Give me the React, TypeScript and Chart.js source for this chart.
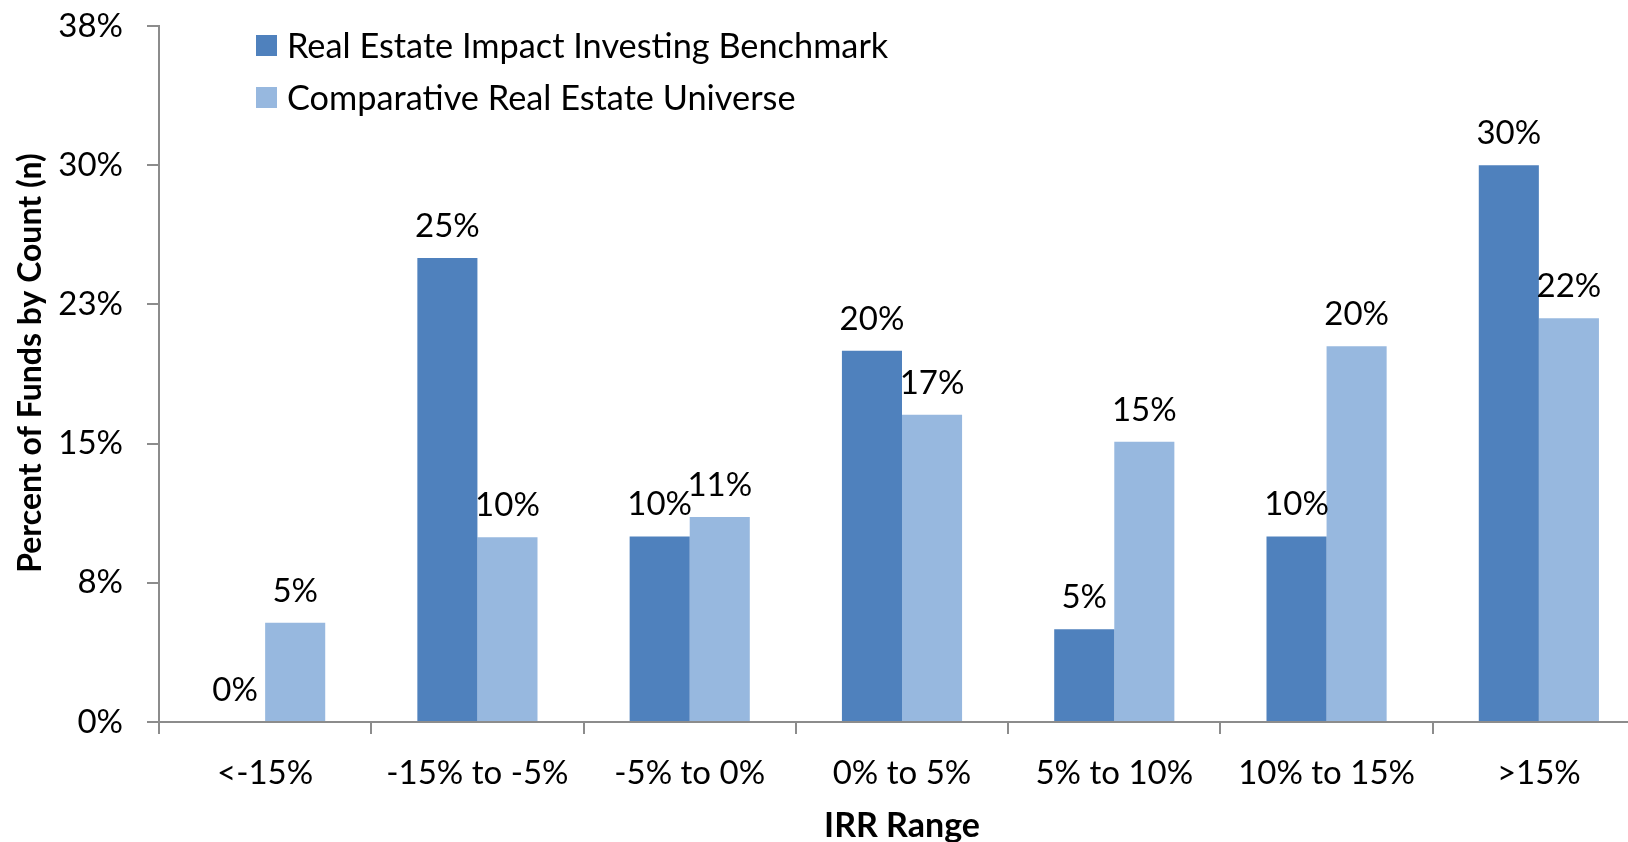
import { useEffect, useRef } from "react";
import { Chart, registerables } from "chart.js";

Chart.register(...registerables);

const categories = ["<-15%", "-15% to -5%", "-5% to 0%", "0% to 5%", "5% to 10%", "10% to 15%", ">15%"];
const benchmarkValues = [0, 25.0, 10.0, 20.0, 5.0, 10.0, 30.0];
const universeValues = [5.35, 9.95, 11.05, 16.55, 15.1, 20.25, 21.75];
const seriesNames = ["Real Estate Impact Investing Benchmark", "Comparative Real Estate Universe"];
const yTickValues = [0, 7.5, 15, 22.5, 30, 37.5];

const FONT = "Lato";
const DARK = "#4F81BD";
const LIGHT = "#97B8DF";
const AXIS = "#8C8C8C";

const overlayPlugin = {
  id: "overlay",
  afterDatasetsDraw(chart: any) {
    const ctx = chart.ctx as CanvasRenderingContext2D;
    ctx.save();
    // data labels
    ctx.fillStyle = "#000";
    ctx.font = `33px ${FONT}`;
    ctx.textAlign = "center";
    ctx.textBaseline = "alphabetic";
    chart.data.datasets.forEach((ds: any, di: number) => {
      const meta = chart.getDatasetMeta(di);
      meta.data.forEach((el: any, i: number) => {
        const v = ds.data[i] as number;
        ctx.fillText(Math.round(v) + "%", el.x, el.y - 21);
      });
    });
    // legend
    ctx.textAlign = "left";
    ctx.textBaseline = "middle";
    ctx.font = `34.3px ${FONT}`;
    chart.data.datasets.forEach((ds: any, di: number) => {
      const top = 35 + di * 52;
      ctx.fillStyle = ds.backgroundColor;
      ctx.fillRect(256, top, 21, 21);
      ctx.fillStyle = "#000";
      ctx.fillText(ds.label, 287, top + 12);
    });
    // axis titles
    ctx.textAlign = "center";
    ctx.textBaseline = "middle";
    const ca = chart.chartArea;
    ctx.font = `bold 34px ${FONT}`;
    ctx.fillText("IRR Range", (ca.left + ca.right) / 2, 826);
    ctx.font = `bold 32px ${FONT}`;
    ctx.translate(31, 363);
    ctx.rotate(-Math.PI / 2);
    ctx.fillText("Percent of Funds by Count (n)", 0, 0);
    ctx.restore();
  },
};

export default function App() {
  const ref = useRef<HTMLCanvasElement | null>(null);
  useEffect(() => {
    if (!ref.current) return;
    const chart = new Chart(ref.current, {
      type: "bar",
      data: {
        labels: categories,
        datasets: [
          { label: seriesNames[0], data: benchmarkValues, backgroundColor: DARK, borderWidth: 0 },
          { label: seriesNames[1], data: universeValues, backgroundColor: LIGHT, borderWidth: 0 },
        ],
      },
      options: {
        responsive: false,
        animation: false,
        devicePixelRatio: 1,
        layout: { autoPadding: false, padding: { top: 26, right: 5, left: 0, bottom: 0 } },
        datasets: { bar: { categoryPercentage: 0.566, barPercentage: 1 } },
        plugins: { legend: { display: false }, tooltip: { enabled: false } },
        scales: {
          x: {
            afterFit: (s: any) => { s.height = 120; s.paddingLeft = 0; s.paddingRight = 0; },
            grid: { display: true, drawOnChartArea: false, drawTicks: true, tickLength: 12, color: AXIS, lineWidth: 2, offset: true },
            border: { display: true, color: AXIS, width: 2 },
            ticks: { color: "#000", font: { family: FONT, size: 33, lineHeight: 1.2 }, padding: 20, maxRotation: 0, autoSkip: false },
          },
          y: {
            min: 0,
            max: 37.5,
            afterFit: (s: any) => { s.width = 159; s.paddingTop = 0; s.paddingBottom = 0; },
            afterBuildTicks: (s: any) => { s.ticks = yTickValues.map((v) => ({ value: v })); },
            grid: { display: true, drawOnChartArea: false, drawTicks: true, tickLength: 12, color: AXIS, lineWidth: 2 },
            border: { display: true, color: AXIS, width: 2 },
            ticks: {
              color: "#000",
              font: { family: FONT, size: 33 },
              padding: 24,
              callback: (v: any) => Math.round(Number(v)) + "%",
            },
          },
        },
      },
      plugins: [overlayPlugin],
    });
    return () => chart.destroy();
  }, []);
  return (
    <div style={{ position: "fixed", left: 0, top: 0, width: 1628, height: 842, overflow: "hidden", background: "#fff" }}>
      <canvas ref={ref} width={1650} height={842} style={{ width: 1650, height: 842, display: "block" }} />
    </div>
  );
}
